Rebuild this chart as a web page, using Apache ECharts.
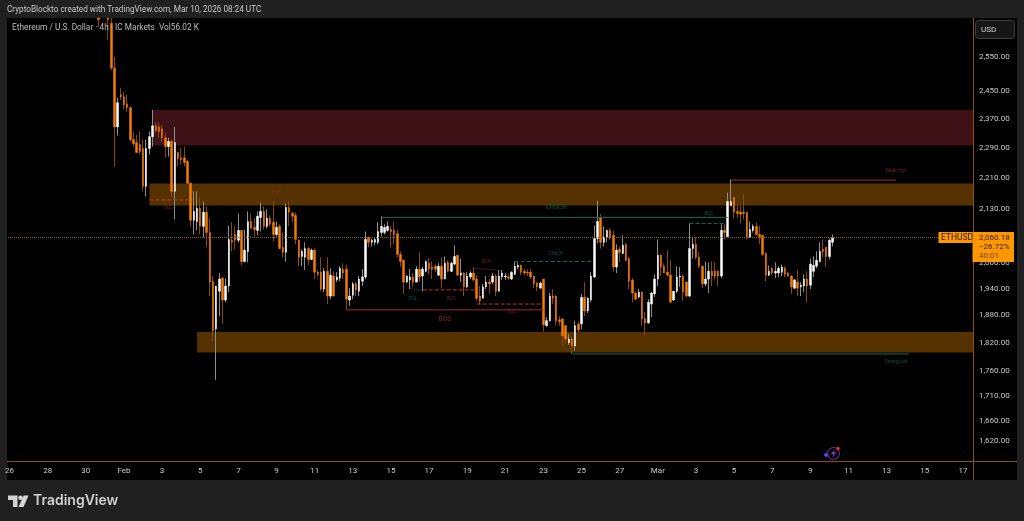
<!DOCTYPE html>
<html>
<head>
<meta charset="utf-8">
<title>ETHUSD 4h</title>
<style>
	html, body { margin: 0; padding: 0; background: #202020; }
	#chart { width: 1024px; height: 521px; }
</style>
<script src="https://cdn.jsdelivr.net/npm/echarts@6/dist/echarts.min.js"></script>
</head>
<body>
<div id="chart"></div>
<script>
// 4h bars: [open, close, low, high]
// the first few run off the top of the chart, so they stop at the axis max
const firstBar = 28
const candles = [
	[2670, 2665, 2640, 2670], ['-', '-', '-', '-'], ['-', '-', '-', '-'], [2670, 2665, 2601, 2670],
	[2653, 2517, 2510, 2670], [2517, 2348, 2241, 2550], [2348, 2416, 2324, 2430], [2439, 2433, 2424, 2459],
	[2433, 2410, 2396, 2447], [2413, 2402, 2390, 2439], [2402, 2313, 2308, 2405], [2313, 2302, 2294, 2335],
	[2305, 2278, 2278, 2326], [2300, 2281, 2273, 2335], [2289, 2189, 2176, 2313], [2189, 2289, 2163, 2313],
	[2289, 2321, 2273, 2335], [2321, 2351, 2294, 2396], [2351, 2337, 2332, 2360], [2348, 2335, 2318, 2360],
	[2343, 2318, 2305, 2354], [2318, 2294, 2264, 2332], [2294, 2308, 2267, 2318], [2308, 2176, 2163, 2313],
	[2176, 2305, 2105, 2348], [2278, 2262, 2241, 2281], [2264, 2259, 2246, 2291], [2264, 2251, 2241, 2294],
	[2254, 2197, 2194, 2259], [2197, 2103, 2088, 2199], [2103, 2125, 2068, 2176], [2100, 2133, 2078, 2176],
	[2133, 2088, 2068, 2160], [2088, 2123, 2061, 2150], [2123, 2073, 2037, 2138], [2073, 1955, 1923, 2108],
	[1957, 1846, 1824, 1969], [1850, 1946, 1742, 1946], [1934, 1962, 1878, 1976], [1964, 1914, 1861, 1967],
	[1914, 1946, 1909, 1964], [1946, 2056, 1932, 2090], [2054, 2049, 2027, 2098], [2068, 2054, 2032, 2088],
	[2054, 2078, 2049, 2120], [2078, 2003, 1994, 2078], [2003, 2030, 2001, 2080], [2027, 2100, 2001, 2125],
	[2100, 2083, 2083, 2120], [2085, 2080, 2063, 2108], [2078, 2113, 2066, 2125], [2110, 2125, 2075, 2148],
	[2125, 2088, 2080, 2138], [2088, 2108, 2083, 2130], [2108, 2093, 2088, 2115], [2098, 2068, 2051, 2152],
	[2068, 2085, 2063, 2100], [2088, 2034, 2032, 2093], [2037, 2025, 2013, 2073], [2025, 2135, 2003, 2145],
	[2135, 2123, 2088, 2150], [2120, 2113, 2098, 2125], [2115, 2056, 2044, 2123], [2054, 2013, 1992, 2056],
	[2015, 2027, 1992, 2032], [2013, 2034, 1983, 2049], [2034, 2008, 1994, 2037], [2008, 2030, 2006, 2034],
	[2030, 1978, 1962, 2034], [1978, 1973, 1967, 1983], [1978, 1939, 1934, 2013], [1939, 1980, 1932, 1987],
	[1980, 1923, 1905, 2013], [1923, 1971, 1916, 1987], [1969, 1923, 1923, 1980], [1960, 1967, 1955, 1978],
	[1964, 1987, 1957, 1992], [1985, 1976, 1962, 1999], [1985, 1916, 1892, 1996], [1914, 1923, 1901, 1941],
	[1925, 1951, 1916, 1955], [1951, 1937, 1923, 1955], [1934, 1962, 1923, 1969], [1957, 1967, 1946, 1985],
	[1967, 2056, 1962, 2075], [2061, 2049, 2037, 2063], [2049, 2054, 2039, 2058], [2049, 2056, 2042, 2061],
	[2049, 2075, 2044, 2098], [2073, 2088, 2063, 2113], [2073, 2085, 2068, 2093], [2078, 2088, 2075, 2100],
	[2080, 2075, 2037, 2088], [2078, 2068, 2044, 2100], [2070, 2020, 2013, 2080], [2020, 2003, 1990, 2027],
	[2006, 1955, 1928, 2008], [1955, 1969, 1953, 1971], [1960, 1967, 1939, 1985], [1967, 1955, 1944, 1976],
	[1955, 1985, 1955, 1992], [1985, 1967, 1955, 2025], [1969, 1985, 1934, 1990], [1980, 2003, 1978, 2006],
	[1999, 1985, 1973, 2011], [1990, 1985, 1962, 2003], [1992, 1985, 1978, 1996], [1971, 1992, 1969, 1999],
	[1992, 1962, 1941, 2013], [1962, 1999, 1962, 2015], [2001, 1980, 1978, 2006], [1980, 1999, 1978, 2003],
	[1997, 2015, 1994, 2042], [2018, 1971, 1969, 2018], [1971, 1976, 1955, 2010], [1976, 1944, 1923, 1978],
	[1944, 1969, 1941, 1978], [1967, 1976, 1962, 1980], [1976, 1960, 1957, 1990], [1962, 1918, 1912, 1971],
	[1923, 1912, 1905, 1946], [1918, 1944, 1918, 1951], [1944, 1955, 1939, 1969], [1955, 1951, 1928, 1962],
	[1955, 1969, 1951, 1976], [1969, 1934, 1923, 1973], [1934, 1969, 1934, 1983], [1967, 1976, 1960, 1983],
	[1967, 1969, 1960, 1976], [1967, 1964, 1960, 1973], [1962, 1978, 1960, 1980], [1973, 1992, 1971, 2003],
	[1990, 1994, 1985, 2001], [1994, 1978, 1971, 1996], [1980, 1976, 1971, 1985], [1978, 1976, 1969, 1985],
	[1978, 1967, 1962, 1985], [1969, 1951, 1941, 1969], [1953, 1944, 1934, 1955], [1941, 1953, 1941, 1955],
	[1962, 1859, 1844, 1962], [1857, 1868, 1855, 1876], [1868, 1923, 1866, 1930], [1923, 1918, 1905, 1939],
	[1923, 1868, 1859, 1925], [1870, 1866, 1857, 1878], [1872, 1835, 1813, 1872], [1857, 1828, 1818, 1857],
	[1820, 1828, 1815, 1839], [1828, 1813, 1796, 1833], [1813, 1857, 1803, 1868], [1860, 1848, 1843, 1866],
	[1861, 1920, 1850, 1928], [1920, 1890, 1878, 1955], [1890, 1918, 1885, 1920], [1914, 1969, 1909, 1978],
	[1967, 2058, 1964, 2090], [2058, 2100, 2047, 2152], [2110, 2049, 2034, 2118], [2049, 2061, 2039, 2088],
	[2061, 2078, 2049, 2080], [2078, 2061, 2054, 2083], [2066, 1990, 1980, 2078], [1990, 2030, 1976, 2044],
	[2032, 2025, 2001, 2039], [2022, 2042, 2020, 2066], [2044, 2006, 2003, 2047], [2010, 1957, 1939, 2013],
	[1960, 1930, 1909, 1964], [1930, 1916, 1914, 1932], [1921, 1932, 1918, 1939], [1932, 1872, 1857, 1934],
	[1872, 1863, 1837, 1887], [1863, 1909, 1861, 1916], [1905, 1930, 1876, 1932], [1928, 1962, 1921, 1973],
	[1962, 2018, 1946, 2056], [2018, 1990, 1969, 2020], [1992, 1976, 1976, 1999], [1978, 1971, 1969, 2030],
	[1971, 1909, 1907, 2006], [1914, 1934, 1912, 1934], [1934, 1967, 1930, 1992], [1967, 1969, 1944, 1990],
	[1969, 1932, 1912, 1971], [1955, 1923, 1921, 1957], [1923, 2034, 1921, 2095], [2034, 2044, 2010, 2061],
	[2044, 2013, 2008, 2061], [2013, 1992, 1987, 2025], [1992, 1951, 1941, 1994], [1951, 1962, 1946, 2003],
	[1962, 1980, 1930, 2001], [1980, 1969, 1946, 2003], [1980, 1969, 1962, 2001], [1980, 1969, 1946, 1983],
	[1969, 2078, 1964, 2093], [2078, 2073, 2056, 2093], [2063, 2150, 2061, 2173], [2140, 2150, 2138, 2207],
	[2160, 2123, 2108, 2163], [2125, 2120, 2108, 2143], [2123, 2118, 2095, 2143], [2123, 2120, 2105, 2168],
	[2123, 2061, 2056, 2123], [2061, 2080, 2061, 2100], [2078, 2088, 2073, 2093], [2088, 2068, 2066, 2098],
	[2068, 2063, 2044, 2088], [2066, 2020, 2015, 2068], [2022, 1971, 1957, 2025], [1971, 1980, 1969, 1994],
	[1987, 1976, 1971, 1990], [1976, 1980, 1964, 2001], [1976, 1987, 1967, 1992], [1978, 1990, 1969, 1996],
	[1987, 1973, 1967, 1992], [1976, 1969, 1967, 1978], [1969, 1944, 1928, 1971], [1941, 1960, 1939, 1962],
	[1955, 1941, 1923, 1983], [1944, 1948, 1923, 1955], [1946, 1962, 1932, 1973], [1962, 1946, 1909, 1980],
	[1948, 1997, 1939, 2010], [1980, 1994, 1967, 2015], [1992, 2006, 1987, 2027], [2003, 2027, 2001, 2049],
	[2032, 2027, 2013, 2056], [2037, 2015, 1990, 2037], [2015, 2054, 2008, 2058], [2049, 2060.18, 2039, 2068],
]
const lastPrice = 2060.18

// one bar every 4h, Jan 26 through the empty right margin
const barCount = 304
const barsPerDay = 6
const monthDays = [['Jan', 31], ['Feb', 28], ['Mar', 31]]
const categories = []
for (let i = 0; i < barCount; i++) {
	let d = 26 + Math.floor(i / barsPerDay), m = 0
	while (d > monthDays[m][1]) { d -= monthDays[m][1]; m++ }
	categories.push(`${monthDays[m][0]} ${d} ${String((i % barsPerDay) * 4).padStart(2, '0')}:00`)
}

const xTickDays = [0, 2, 4, 6, 8, 10, 12, 14, 16, 18, 20, 22, 24, 26, 28, 30, 32, 34, 36, 38, 40, 42, 44, 46, 48, 50]
const xTickLabels = ['26', '28', '30', 'Feb', '3', '5', '7', '9', '11', '13', '15', '17', '19', '21', '23', '25', '27', 'Mar', '3', '5', '7', '9', '11', '13', '15', '17']
const yTicks = [2550, 2450, 2370, 2290, 2210, 2130, 2000, 1940, 1880, 1820, 1760, 1710, 1660, 1620]

// zones: [first bar, upper price, lower price]
const supplyZone = [[45, 2395, 2297]]
const demandZones = [[44, 2196, 2140], [59, 1843, 1799]]

// segments: [bar, price, bar, price]
const redSolid = [[106, 1892, 168, 1892], [227, 2205, 279, 2205]]
const redDashed = [[44, 2154, 56, 2154], [130, 1937, 147, 1937], [147, 1905, 168, 1905]]
const eqhLines = [[80, 2148, 89, 2153], [146, 1987, 154, 1983]]
const tealSolid = [[117, 2110, 226, 2110], [177, 1796, 283, 1796]]
const tealDashed = [[159, 2003, 183, 2003], [214, 2095, 225, 2095]]
const eqlLines = [[126, 1941, 130, 1934]]

// notes: [text, bar, price]
const redNotes = [['BOS', 50, 2135], ['EQH', 84, 2173], ['BOS', 139, 1916], ['EQH', 150, 2003], ['BOS', 158, 1887], ['Weak High', 279, 2228]]
const redBigNotes = [['BOS', 137, 1870]]
const tealNotes = [['EQL', 127, 1916], ['CHoCH', 172, 2022], ['BOS', 220, 2118], ['Strong Low', 279, 1780]]
const tealBigNotes = [['CHoCH', 172, 2135]]

const colors = {
	frame: '#202020',
	up: '#ffffff',
	down: '#f57c00',
	upWick: '#8e8e8e',
	downWick: '#8a4a04',
	axis: '#8a520c',
	text: '#cccccc',
	supply: '#3d1115',
	demand: '#553200',
	red: '#a3283c',
	teal: '#0b6b5c',
	tag: '#ff9800',
}
const font = 'Roboto'

function zoneSeries(rows, color) {
	return {
		type: 'custom',
		silent: true,
		z: 1,
		clip: true,
		data: rows,
		encode: { x: 0, y: [1, 2] },
		renderItem: (params, api) => {
			let a = api.coord([api.value(0), api.value(1)])
			let b = api.coord([api.value(0), api.value(2)])
			let right = params.coordSys.x + params.coordSys.width
			return { type: 'rect', shape: { x: a[0], y: a[1], width: right - a[0], height: b[1] - a[1] }, style: { fill: color } }
		},
	}
}

function segmentSeries(rows, color, type, width) {
	return rows.map(r => ({
		type: 'line',
		silent: true,
		z: 4,
		symbol: 'none',
		animation: false,
		lineStyle: { color, type, width },
		data: [[r[0], r[1]], [r[2], r[3]]],
	}))
}

function noteSeries(rows, color, size) {
	return {
		type: 'scatter',
		silent: true,
		z: 5,
		symbolSize: 1,
		itemStyle: { color: 'transparent' },
		data: rows.map(r => ({
			value: [r[1], r[2]],
			label: { show: true, position: 'inside', formatter: r[0], color, fontSize: size, fontFamily: font },
		})),
	}
}

// wicks and bodies are separate so the thin wicks can stay dim
const emptyBars = () => Array.from({ length: firstBar }, () => ['-', '-', '-', '-'])
const wickSeries = {
	type: 'candlestick',
	silent: true,
	z: 2,
	barWidth: 1,
	itemStyle: { color: colors.upWick, color0: colors.downWick, borderColor: colors.upWick, borderColor0: colors.downWick, borderWidth: 1 },
	data: emptyBars().concat(candles.map(c => c.slice())),
}
const bodySeries = {
	type: 'candlestick',
	silent: true,
	z: 3,
	barWidth: 2,
	itemStyle: { color: colors.up, color0: colors.down, borderColor: colors.up, borderColor0: colors.down, borderWidth: 0.5 },
	data: emptyBars().concat(candles.map(c => c[0] === '-' ? c.slice() : [c[0], c[1], Math.min(c[0], c[1]), Math.max(c[0], c[1])])),
	markLine: {
		silent: true,
		symbol: 'none',
		label: { show: false },
		lineStyle: { color: '#8f6020', type: 'dotted', width: 1 },
		data: [{ yAxis: lastPrice }],
	},
}

const rootText = (text, x, y, size, fill, z, family) => ({
	type: 'text',
	x, y, z,
	silent: true,
	style: { text, fill, font: family || `${size}px ${font}`, textVerticalAlign: 'middle' },
})

const chart = echarts.init(document.getElementById('chart'), null, { renderer: 'canvas' })
chart.setOption({
	animation: false,
	backgroundColor: colors.frame,
	grid: { left: 8, top: 18, width: 966, height: 444, show: false },
	xAxis: {
		type: 'category',
		data: categories,
		boundaryGap: true,
		axisLine: { show: false },
		axisTick: { show: false },
		splitLine: { show: false },
		axisLabel: {
			color: colors.text,
			fontSize: 8,
			fontFamily: font,
			margin: 5,
			interval: i => xTickDays.includes(i / barsPerDay),
			formatter: (v, i) => xTickLabels[xTickDays.indexOf(i / barsPerDay)],
		},
	},
	yAxis: {
		type: 'log',
		position: 'right',
		min: 1581,
		max: 2670,
		axisLine: { show: false },
		axisTick: { show: false },
		splitLine: { show: false },
		minorTick: { show: false },
		axisLabel: {
			color: colors.text,
			fontSize: 8,
			fontFamily: font,
			margin: 5,
			customValues: yTicks,
			formatter: v => Number(v).toLocaleString('en-US', { minimumFractionDigits: 2, maximumFractionDigits: 2 }),
		},
	},
	series: [
		zoneSeries(supplyZone, colors.supply),
		zoneSeries(demandZones, colors.demand),
		wickSeries,
		bodySeries,
		...segmentSeries(redSolid, colors.red, 'solid', 1),
		...segmentSeries(redDashed, '#c4302a', 'dashed', 1),
		...segmentSeries(eqhLines, '#6e3026', 'dotted', 1),
		...segmentSeries(tealSolid, colors.teal, 'solid', 1),
		...segmentSeries(tealDashed, colors.teal, 'dashed', 1),
		...segmentSeries(eqlLines, colors.teal, 'dotted', 1),
		noteSeries(redNotes, '#8f2530', 4.5),
		noteSeries(redBigNotes, colors.red, 6.5),
		noteSeries(tealNotes, colors.teal, 4.5),
		noteSeries(tealBigNotes, colors.teal, 6.5),
	],
	graphic: [
		// panel behind the plot
		{ type: 'rect', z: -10, silent: true, shape: { x: 7, y: 18, width: 1010, height: 462 }, style: { fill: '#000' } },
		{ type: 'line', z: 20, silent: true, shape: { x1: 973.5, y1: 18, x2: 973.5, y2: 480 }, style: { stroke: colors.axis, lineWidth: 1 } },
		{ type: 'line', z: 20, silent: true, shape: { x1: 7, y1: 461.5, x2: 1017, y2: 461.5 }, style: { stroke: colors.axis, lineWidth: 1 } },
		// header and legend
		rootText('CryptoBlockto created with TradingView.com, Mar 10, 2026 08:24 UTC', 7, 10, 8.2, '#c8c8c8', 20),
		rootText('Ethereum / U.S. Dollar · 4h · IC Markets  Vol56.02 K', 12, 28, 8.3, '#bdbdbd', 20),
		// currency button
		{ type: 'rect', z: 20, silent: true, shape: { x: 975.5, y: 20.5, width: 39, height: 18, r: 3 }, style: { fill: '#161616', stroke: '#3c3c3c', lineWidth: 1 } },
		rootText('USD', 981, 30, 8, '#d0d0d0', 21),
		// last price tag
		{ type: 'rect', z: 22, silent: true, shape: { x: 938.5, y: 232, width: 34, height: 11 }, style: { fill: colors.tag } },
		{ type: 'rect', z: 22, silent: true, shape: { x: 972.5, y: 232, width: 41.5, height: 30 }, style: { fill: colors.tag } },
		rootText('ETHUSD', 941, 237.5, 8.5, '#2a1c00', 23),
		rootText('2,060.18', 979, 237.5, 8, '#2a1c00', 23),
		rootText('−26.72%', 979, 246.5, 8, '#2a1c00', 23),
		rootText('40:01', 979, 256, 8, '#6e4800', 23),
		// lightning badge
		{ type: 'circle', z: 20, silent: true, shape: { cx: 833.5, cy: 453.5, r: 6 }, style: { fill: 'transparent', stroke: '#7b2fb5', lineWidth: 1 } },
		{ type: 'polygon', z: 20, silent: true, shape: { points: [[835, 449], [831, 454], [833.5, 454], [832, 458], [836, 452.5], [833.5, 452.5]] }, style: { fill: '#8a3fd6' } },
		{ type: 'circle', z: 21, silent: true, shape: { cx: 838, cy: 448.5, r: 1.8 }, style: { fill: '#e02a3a' } },
		{ type: 'polygon', z: 21, silent: true, shape: { points: [[826, 452.5], [828.5, 455], [826, 457.5], [823.5, 455]] }, style: { fill: '#5a3ff0' } },
		// footer logo
		{ type: 'polygon', z: 20, silent: true, shape: { points: [[8, 495.5], [17.5, 495.5], [17.5, 507], [13, 507], [13, 500], [8, 500]] }, style: { fill: '#d4d4d4' } },
		{ type: 'circle', z: 20, silent: true, shape: { cx: 20.5, cy: 497.7, r: 2.2 }, style: { fill: '#d4d4d4' } },
		{ type: 'polygon', z: 20, silent: true, shape: { points: [[23.5, 495.5], [28.5, 495.5], [23.5, 507], [18.5, 507]] }, style: { fill: '#d4d4d4' } },
		rootText('TradingView', 33, 501, 13.5, '#d0d0d0', 20, '600 14px Inter'),
	],
})
</script>
</body>
</html>
